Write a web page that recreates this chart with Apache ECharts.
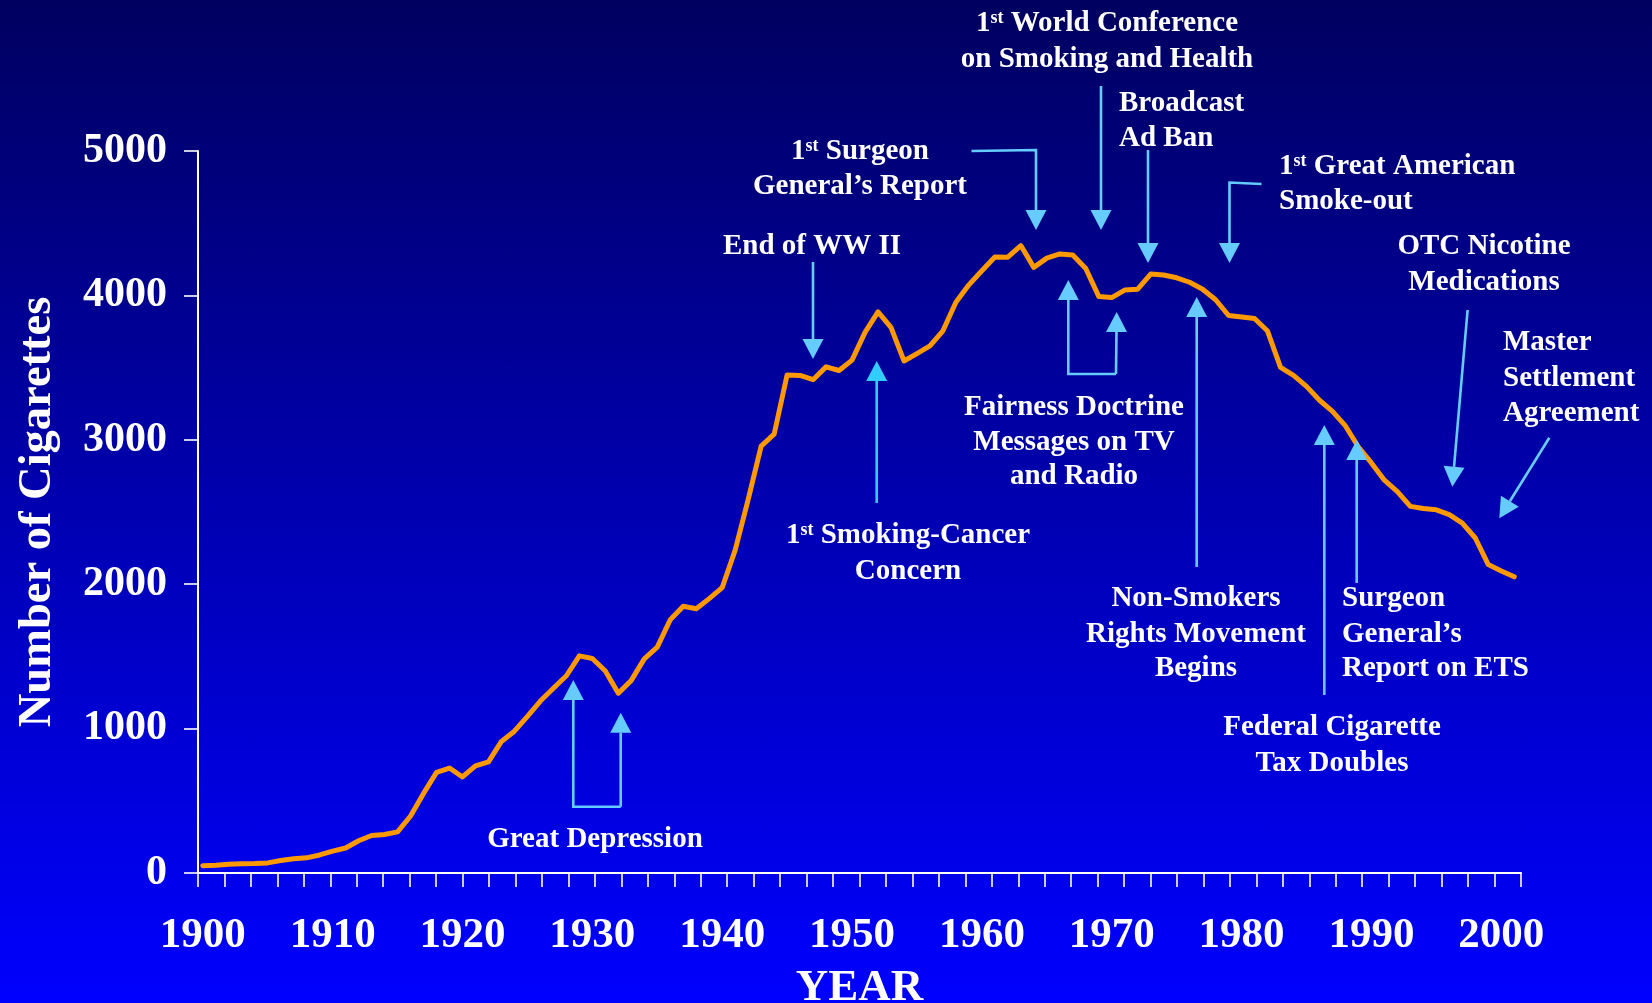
<!DOCTYPE html>
<html>
<head>
<meta charset="utf-8">
<script src="https://cdn.jsdelivr.net/npm/echarts@6/dist/echarts.min.js"></script>
<style>
  html, body { margin: 0; padding: 0; }
  #chart { width: 1652px; height: 1003px; background: linear-gradient(to bottom, #000060 0%, #0000FF 100%); }
</style>
</head>
<body>
<div id="chart"></div>
<script>
// ---- data ----
const years = [1900,1901,1902,1903,1904,1905,1906,1907,1908,1909,
  1910,1911,1912,1913,1914,1915,1916,1917,1918,1919,
  1920,1921,1922,1923,1924,1925,1926,1927,1928,1929,
  1930,1931,1932,1933,1934,1935,1936,1937,1938,1939,
  1940,1941,1942,1943,1944,1945,1946,1947,1948,1949,
  1950,1951,1952,1953,1954,1955,1956,1957,1958,1959,
  1960,1961,1962,1963,1964,1965,1966,1967,1968,1969,
  1970,1971,1972,1973,1974,1975,1976,1977,1978,1979,
  1980,1981,1982,1983,1984,1985,1986,1987,1988,1989,
  1990,1991,1992,1993,1994,1995,1996,1997,1998,1999,
  2000,2001];
const cigarettes = [50,53,60,64,66,70,86,99,105,125,
  151,173,223,260,267,285,395,551,697,727,
  665,742,770,911,982,1085,1191,1279,1366,1504,
  1485,1399,1245,1334,1483,1564,1754,1847,1830,1900,
  1976,2236,2585,2956,3039,3449,3446,3416,3505,3480,
  3552,3744,3886,3778,3546,3597,3650,3755,3953,4073,
  4171,4266,4265,4345,4194,4258,4287,4280,4186,3993,
  3985,4037,4043,4148,4141,4122,4091,4043,3970,3861,
  3851,3840,3753,3502,3446,3370,3274,3197,3096,2950,
  2840,2720,2641,2539,2524,2515,2482,2423,2320,2136,
  2092,2051];
const xLabelYears = [1900,1910,1920,1930,1940,1950,1960,1970,1980,1990,2000];
const yTickValues = [0,1000,2000,3000,4000,5000];

// ---- styling / annotations ----
const FONT = '"Liberation Serif", "Times New Roman", serif';
const ARROW = '#66CCFF';
const ARROW2 = '#33CCFF';
const HL = 20, HW = 10.5;
const TEXT_DY = 3;

function arrow(points, color) {
  const n = points.length;
  const tip = points[n - 1], prev = points[n - 2];
  const dx = tip[0] - prev[0], dy = tip[1] - prev[1];
  const len = Math.sqrt(dx * dx + dy * dy);
  const ux = dx / len, uy = dy / len;
  const base = [tip[0] - ux * HL, tip[1] - uy * HL];
  const shaft = points.slice(0, n - 1).concat([base]);
  return [
    { type: 'polyline', z: 100, shape: { points: shaft },
      style: { stroke: color, lineWidth: 2.6, fill: null } },
    { type: 'polygon', z: 100,
      shape: { points: [tip, [base[0] - uy * HW, base[1] + ux * HW], [base[0] + uy * HW, base[1] - ux * HW]] },
      style: { fill: color } }
  ];
}
function label(x, y, text, align) {
  return { type: 'text', x: x, y: y + TEXT_DY, z: 101,
    style: { text: text, fill: '#ffffff', fontFamily: FONT, fontWeight: 'bold', fontSize: 29,
      align: align, verticalAlign: 'middle', textAlign: align, textVerticalAlign: 'middle',
      rich: { s: { fontFamily: FONT, fontWeight: 'bold', fontSize: 18, fill: '#ffffff', verticalAlign: 'top' } } } };
}

const texts = [
  [595, 837, 'Great Depression', 'center'],
  [812, 244, 'End of WW II', 'center'],
  [908, 533, '1{s|st} Smoking-Cancer', 'center'],
  [908, 569, 'Concern', 'center'],
  [860, 149, '1{s|st} Surgeon', 'center'],
  [860, 184, 'General\u2019s Report', 'center'],
  [1107, 21, '1{s|st} World Conference', 'center'],
  [1107, 57, 'on Smoking and Health', 'center'],
  [1119, 101, 'Broadcast', 'left'],
  [1119, 136, 'Ad Ban', 'left'],
  [1279, 164, '1{s|st} Great American', 'left'],
  [1279, 199, 'Smoke-out', 'left'],
  [1484, 244, 'OTC Nicotine', 'center'],
  [1484, 280, 'Medications', 'center'],
  [1503, 340, 'Master', 'left'],
  [1503, 376, 'Settlement', 'left'],
  [1503, 411, 'Agreement', 'left'],
  [1074, 405, 'Fairness Doctrine', 'center'],
  [1074, 440, 'Messages on TV', 'center'],
  [1074, 474, 'and Radio', 'center'],
  [1196, 596, 'Non-Smokers', 'center'],
  [1196, 632, 'Rights Movement', 'center'],
  [1196, 666, 'Begins', 'center'],
  [1332, 725, 'Federal Cigarette', 'center'],
  [1332, 761, 'Tax Doubles', 'center'],
  [1342, 596, 'Surgeon', 'left'],
  [1342, 632, 'General\u2019s', 'left'],
  [1342, 666, 'Report on ETS', 'left']
];
const arrows = [
  [[[620.7, 806.7], [573.3, 806.7], [573.3, 680]], ARROW],
  [[[620.7, 806.7], [620.7, 712.7]], ARROW],
  [[[813, 262], [813, 359]], ARROW],
  [[[876.7, 503], [876.7, 361]], ARROW2],
  [[[971.5, 151], [1036, 150], [1036, 230]], ARROW],
  [[[1101, 86], [1101, 230]], ARROW],
  [[[1148, 150], [1148, 263]], ARROW],
  [[[1261.5, 184], [1229.5, 182.5], [1229.5, 263]], ARROW],
  [[[1467.6, 310], [1452.3, 486.7]], ARROW],
  [[[1549.3, 437.7], [1499.3, 518.3]], ARROW],
  [[[1116, 374], [1068.3, 374], [1068.3, 280]], ARROW],
  [[[1116, 374], [1116.7, 312]], ARROW],
  [[[1196.7, 567], [1196.7, 297]], ARROW],
  [[[1324.3, 695], [1324.3, 425]], ARROW],
  [[[1356.7, 583], [1356.7, 440]], ARROW]
];

const graphics = [];
arrows.forEach(a => arrow(a[0], a[1]).forEach(g => graphics.push(g)));
texts.forEach(t => graphics.push(label(t[0], t[1], t[2], t[3])));

const chart = echarts.init(document.getElementById('chart'), null, { renderer: 'canvas' });
const axisFont = { color: '#ffffff', fontFamily: FONT, fontWeight: 'bold' };
chart.setOption({
  backgroundColor: 'transparent',
  animation: false,
  grid: { left: 198, right: 131, top: 151, bottom: 130, containLabel: false, outerBoundsMode: 'none' },
  xAxis: [
    { type: 'value', position: 'bottom', min: 1899.63, max: 2001.52,
      axisLine: { show: false }, axisTick: { show: false }, splitLine: { show: false },
      axisLabel: Object.assign({ customValues: xLabelYears, formatter: v => String(v), fontSize: 43, margin: 41,
        showMinLabel: true, showMaxLabel: true, hideOverlap: false }, axisFont) },
    { type: 'value', position: 'bottom', min: 1900, max: 2000, interval: 2,
      axisLine: { show: true, onZero: false, lineStyle: { color: '#ffffff', width: 2 } },
      axisTick: { show: true, length: 14, lineStyle: { color: '#ffffff', width: 1.6 } },
      axisLabel: { show: false }, splitLine: { show: false },
      name: 'YEAR', nameLocation: 'middle', nameGap: 93,
      nameTextStyle: Object.assign({ fontSize: 45 }, axisFont) }
  ],
  yAxis: {
    type: 'value', min: 0, max: 5000, interval: 1000,
    axisLine: { show: true, onZero: false, lineStyle: { color: '#ffffff', width: 2 } },
    axisTick: { show: true, length: 14, lineStyle: { color: '#ffffff', width: 1.6 } },
    axisLabel: Object.assign({ customValues: yTickValues, formatter: v => String(v), fontSize: 42, margin: 31,
      padding: [5, 0, 0, 0] }, axisFont),
    splitLine: { show: false },
    name: 'Number of Cigarettes', nameLocation: 'middle', nameGap: 137, nameRotate: 90,
    nameTextStyle: Object.assign({ fontSize: 46.5 }, axisFont)
  },
  series: [{
    type: 'line', xAxisIndex: 0, yAxisIndex: 0, z: 5,
    data: years.map((y, i) => [y, cigarettes[i]]),
    symbol: 'none', showSymbol: false,
    lineStyle: { color: '#FF9900', width: 5, cap: 'round', join: 'round' }
  }],
  graphic: graphics
});
</script>
</body>
</html>
